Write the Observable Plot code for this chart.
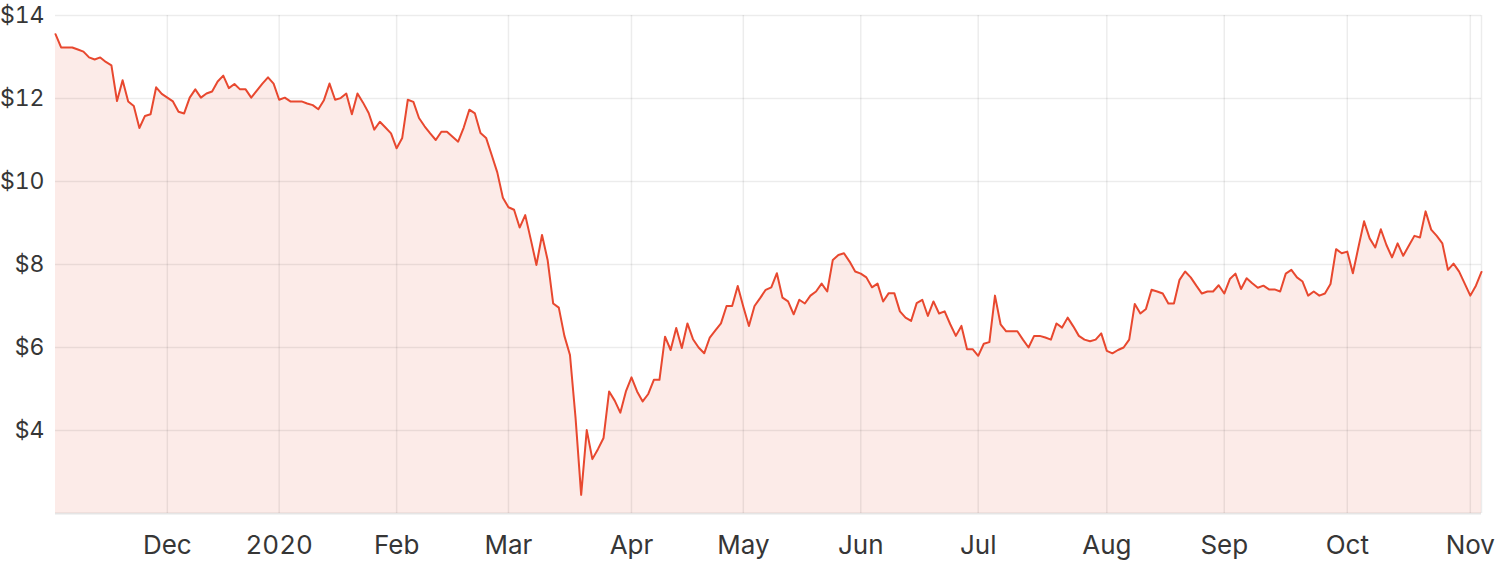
<!DOCTYPE html>
<html>
<head>
<meta charset="utf-8">
<script src="https://cdn.jsdelivr.net/npm/d3@7"></script>
<script src="https://cdn.jsdelivr.net/npm/@observablehq/plot@0.6"></script>
<style>
  html, body { margin: 0; padding: 0; background: #ffffff; }
  #chart { width: 1500px; height: 566px; }
  #chart svg { overflow: visible; }
</style>
</head>
<body>
<div id="chart"></div>
<script>
// Daily closing prices, one per trading day (index 0 = first day shown)
const prices = [
  13.55, 13.23, 13.23, 13.23, 13.18, 13.13, 12.99, 12.94, 12.99, 12.88,
  12.80, 11.94, 12.44, 11.93, 11.82, 11.29, 11.58, 11.62, 12.27, 12.11,
  12.02, 11.93, 11.68, 11.64, 12.02, 12.22, 12.02, 12.12, 12.17, 12.41,
  12.55, 12.25, 12.35, 12.22, 12.22, 12.02, 12.19, 12.36, 12.51, 12.36,
  11.97, 12.02, 11.93, 11.93, 11.93, 11.88, 11.84, 11.74, 11.96, 12.36,
  11.97, 12.01, 12.12, 11.62, 12.12, 11.90, 11.65, 11.25, 11.44, 11.30,
  11.16, 10.80, 11.05, 11.97, 11.92, 11.53, 11.33, 11.16, 11.00, 11.20,
  11.20, 11.08, 10.96, 11.30, 11.73, 11.64, 11.17, 11.05, 10.64, 10.22,
  9.61, 9.38, 9.32, 8.89, 9.19, 8.60, 7.99, 8.71, 8.11, 7.06,
  6.96, 6.28, 5.82, 4.30, 2.45, 4.01, 3.31, 3.55, 3.82, 4.94,
  4.72, 4.43, 4.94, 5.28, 4.94, 4.70, 4.88, 5.22, 5.22, 6.26,
  5.94, 6.47, 5.99, 6.58, 6.20, 6.00, 5.86, 6.24, 6.41, 6.58,
  7.00, 7.00, 7.48, 6.98, 6.52, 7.00, 7.19, 7.39, 7.45, 7.79,
  7.20, 7.11, 6.80, 7.15, 7.06, 7.25, 7.35, 7.54, 7.35, 8.11,
  8.23, 8.27, 8.07, 7.83, 7.78, 7.69, 7.45, 7.54, 7.11, 7.31,
  7.31, 6.87, 6.72, 6.64, 7.07, 7.15, 6.76, 7.11, 6.82, 6.87,
  6.56, 6.28, 6.52, 5.96, 5.96, 5.80, 6.09, 6.13, 7.25, 6.56,
  6.39, 6.39, 6.39, 6.19, 6.00, 6.28, 6.28, 6.24, 6.19, 6.58,
  6.48, 6.72, 6.51, 6.28, 6.19, 6.15, 6.19, 6.34, 5.92, 5.86,
  5.94, 6.00, 6.19, 7.05, 6.82, 6.93, 7.39, 7.35, 7.30, 7.06,
  7.06, 7.63, 7.83, 7.69, 7.49, 7.30, 7.35, 7.35, 7.50, 7.30,
  7.65, 7.78, 7.41, 7.67, 7.55, 7.44, 7.49, 7.40, 7.40, 7.35,
  7.78, 7.87, 7.69, 7.59, 7.25, 7.35, 7.25, 7.30, 7.53, 8.37,
  8.27, 8.31, 7.79, 8.42, 9.04, 8.63, 8.41, 8.85, 8.47, 8.17,
  8.51, 8.21, 8.45, 8.69, 8.65, 9.28, 8.84, 8.69, 8.51, 7.87,
  8.02, 7.83, 7.54, 7.25, 7.49, 7.82
];

// Month tick positions (trading-day index of first trading day of each month)
const tickIndex = [20, 40, 61, 81, 103, 123, 144, 165, 188, 209, 231, 253];
const tickLabels = ["Dec", "2020", "Feb", "Mar", "Apr", "May", "Jun", "Jul", "Aug", "Sep", "Oct", "Nov"];

// Price axis ticks
const yTicks = [4, 6, 8, 10, 12, 14];
const yMin = 2;
const yMax = 14;

const data = prices.map((p, i) => ({ i, p }));
const lastIndex = prices.length - 1;

const gridStyle = { stroke: "#000", strokeOpacity: 0.075, strokeWidth: 1.5 };

const chart = Plot.plot({
  width: 1500,
  height: 566,
  marginLeft: 55,
  marginRight: 19,
  marginTop: 15,
  marginBottom: 53,
  style: { fontFamily: "Inter, 'Open Sans', sans-serif", color: "#363636", background: "#ffffff", overflow: "visible" },
  x: { domain: [0, lastIndex], axis: null },
  y: { domain: [yMin, yMax], axis: null },
  marks: [
    Plot.areaY(data, { x: "i", y1: yMin, y2: "p", fill: "#fcebe8" }),
    Plot.gridY(yTicks, gridStyle),
    Plot.gridX(tickIndex, gridStyle),
    Plot.ruleX([lastIndex], gridStyle),
    Plot.ruleY([yMin], { stroke: "#000", strokeOpacity: 0.1, strokeWidth: 2 }),
    Plot.lineY(data, { x: "i", y: "p", stroke: "#e8482f", strokeWidth: 2 }),
    Plot.axisY(yTicks, {
      tickSize: 0, tickPadding: 11, fontSize: 23,
      tickFormat: d => "$" + d, label: null
    }),
    Plot.axisX(tickIndex, {
      tickSize: 0, tickPadding: 22, fontSize: 26,
      tickFormat: d => tickLabels[tickIndex.indexOf(d)], label: null
    })
  ]
});

document.getElementById("chart").appendChild(chart);
</script>
</body>
</html>
